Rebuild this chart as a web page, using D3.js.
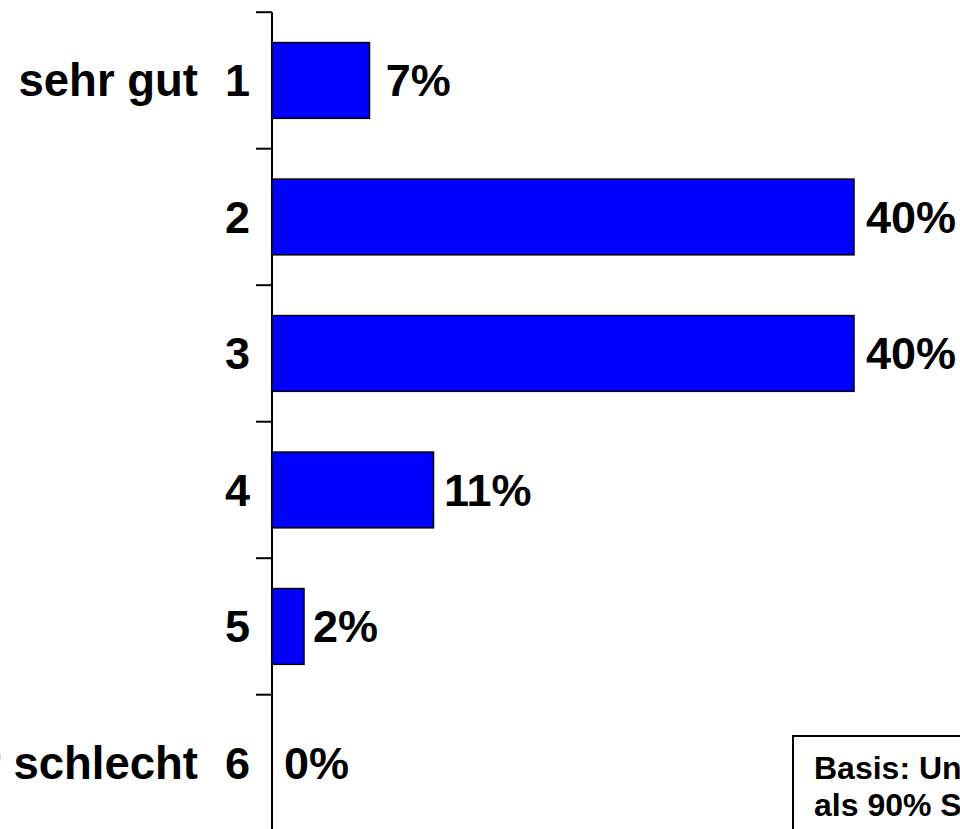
<!DOCTYPE html>
<html>
<head>
<meta charset="utf-8">
<script src="https://cdn.jsdelivr.net/npm/d3@7"></script>
<style>
  html, body { margin: 0; padding: 0; background: #fff; overflow: hidden; }
  svg { display: block; font-family: "Liberation Sans", Arial, sans-serif; font-weight: bold; }
</style>
</head>
<body>
<svg id="chart"></svg>
<script>
// Chart data
const grades = ['1', '2', '3', '4', '5', '6'];
const gradeNames = ['sehr gut', '', '', '', '', 'sehr schlecht'];
const shares = [6.7, 40, 40, 11.1, 2.2, 0];
const shareLabels = [7, 40, 40, 11, 2, 0];
const noteLines = ['Basis: Unternehmen mit mehr', 'als 90% Stammkunden'];

const width = 960;
const height = 829;

const svg = d3.select('#chart')
    .attr('width', width)
    .attr('height', height);

// Scales
const x = d3.scaleLinear()
    .domain([0, 40])
    .range([272, 854]);

const y = d3.scaleBand()
    .domain(grades)
    .range([12.2, 12.2 + 136.5 * grades.length])
    .paddingInner(0.445)
    .paddingOuter(0.2225);

const step = y.step();
const bandTop = d => y(d) - y.paddingOuter() * step;
const mid = i => y(grades[i]) + y.bandwidth() / 2;

// Axis line and ticks between categories
svg.append('line')
    .attr('x1', x(0)).attr('x2', x(0))
    .attr('y1', bandTop(grades[0]))
    .attr('y2', height + 10)
    .attr('stroke', '#000')
    .attr('stroke-width', 2);

svg.selectAll('line.tick')
    .data(grades)
    .enter()
    .append('line')
    .attr('class', 'tick')
    .attr('x1', x(0) - 16).attr('x2', x(0))
    .attr('y1', d => bandTop(d))
    .attr('y2', d => bandTop(d))
    .attr('stroke', '#000')
    .attr('stroke-width', 2);

// Bars (0% has no bar)
svg.selectAll('rect.bar')
    .data(shares.map((v, i) => ({ v, i })).filter(d => d.v > 0))
    .enter()
    .append('rect')
    .attr('class', 'bar')
    .attr('x', x(0))
    .attr('y', d => y(grades[d.i]))
    .attr('width', d => x(d.v) - x(0))
    .attr('height', y.bandwidth())
    .attr('fill', '#0000ff')
    .attr('stroke', '#000')
    .attr('stroke-width', 1.5);

// Value labels
svg.selectAll('text.value')
    .data(shareLabels)
    .enter()
    .append('text')
    .attr('class', 'value')
    .attr('x', d => x(d) + 12)
    .attr('y', (d, i) => mid(i))
    .attr('dy', '0.35em')
    .attr('font-size', 45)
    .text(d => d + '%');

// Category numbers
svg.selectAll('text.grade')
    .data(grades)
    .enter()
    .append('text')
    .attr('class', 'grade')
    .attr('x', 250)
    .attr('y', (d, i) => mid(i))
    .attr('dy', '0.35em')
    .attr('text-anchor', 'end')
    .attr('font-size', 45)
    .text(d => d);

// Category names
svg.selectAll('text.name')
    .data(gradeNames)
    .enter()
    .append('text')
    .attr('class', 'name')
    .attr('x', 198)
    .attr('y', (d, i) => mid(i))
    .attr('dy', '0.35em')
    .attr('text-anchor', 'end')
    .attr('font-size', 45.5)
    .text(d => d);

// Note box (bottom right, partly outside the picture)
const note = svg.append('g').attr('transform', 'translate(793,736)');
note.append('rect')
    .attr('width', 480)
    .attr('height', 120)
    .attr('fill', '#fff')
    .attr('stroke', '#000')
    .attr('stroke-width', 2);
note.selectAll('text')
    .data(noteLines)
    .enter()
    .append('text')
    .attr('x', 21)
    .attr('y', (d, i) => 43 + i * 37)
    .attr('font-size', 32)
    .text(d => d);
</script>
</body>
</html>
